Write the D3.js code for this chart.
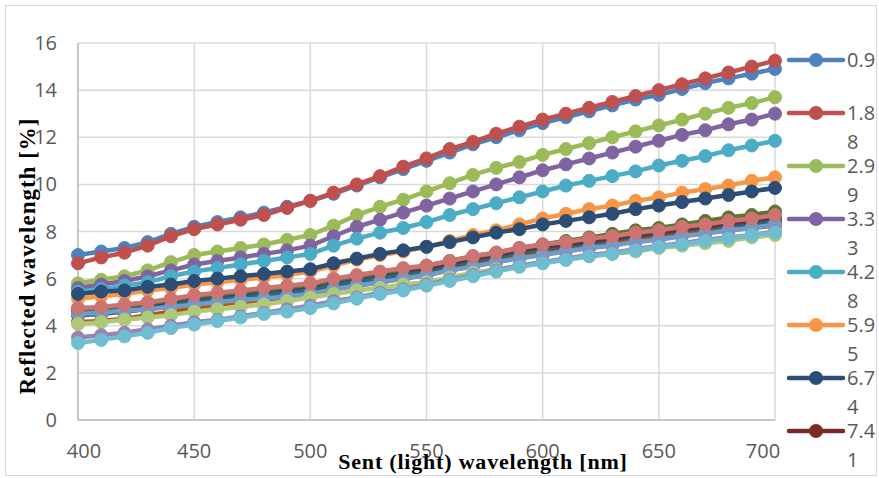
<!DOCTYPE html>
<html>
<head>
<meta charset="utf-8">
<script src="https://cdn.jsdelivr.net/npm/d3@7"></script>
<style>
  body { margin: 0; background: #fff; }
  svg { display: block; }
  .tick-label { font-family: 'Open Sans', sans-serif; font-size: 20px; fill: #595959; }
  .axis-title { font-family: 'Liberation Serif', 'Times New Roman', serif; font-weight: bold; fill: #000; }
</style>
</head>
<body>
<div id="chart"></div>
<script>
// sent wavelength (nm)
const wavelengths = [400, 410, 420, 430, 440, 450, 460, 470, 480, 490, 500, 510, 520, 530, 540, 550,
    560, 570, 580, 590, 600, 610, 620, 630, 640, 650, 660, 670, 680, 690, 700];

const xTicks = [400, 450, 500, 550, 600, 650, 700];
const yTicks = [0, 2, 4, 6, 8, 10, 12, 14, 16];

// only the first 8 series fit in the legend
const legendLabels = ['0.9', '1.88', '2.99', '3.33', '4.28', '5.95', '6.74', '7.41'];

// reflected wavelength [%], one array per series, in drawing order
const s01 = [7.0, 7.15, 7.3, 7.55, 7.9, 8.2, 8.4, 8.6, 8.8, 9.05, 9.3, 9.6, 9.95, 10.3, 10.65, 11.0,
    11.35, 11.7, 12.0, 12.3, 12.6, 12.85, 13.1, 13.35, 13.6, 13.8, 14.05, 14.3, 14.5, 14.7, 14.9];
const s02 = [6.65, 6.9, 7.1, 7.4, 7.8, 8.1, 8.3, 8.5, 8.7, 9.0, 9.3, 9.65, 10.0, 10.35, 10.75, 11.1,
    11.5, 11.8, 12.15, 12.45, 12.75, 13.0, 13.25, 13.5, 13.75, 14.0, 14.25, 14.5, 14.75, 15.0, 15.25];
const s03 = [5.8, 5.95, 6.1, 6.35, 6.7, 7.0, 7.15, 7.3, 7.45, 7.65, 7.85, 8.25, 8.7, 9.05, 9.35, 9.7,
    10.05, 10.4, 10.7, 10.95, 11.25, 11.5, 11.75, 12.0, 12.25, 12.5, 12.75, 13.0, 13.25, 13.45, 13.7];
const s04 = [5.6, 5.75, 5.9, 6.1, 6.35, 6.6, 6.75, 6.9, 7.05, 7.2, 7.4, 7.8, 8.2, 8.5, 8.8, 9.1,
    9.4, 9.7, 10.0, 10.3, 10.6, 10.85, 11.1, 11.35, 11.6, 11.85, 12.1, 12.3, 12.55, 12.75, 13.0];
const s05 = [5.45, 5.55, 5.7, 5.85, 6.1, 6.3, 6.45, 6.6, 6.75, 6.9, 7.05, 7.4, 7.7, 7.95, 8.15, 8.4,
    8.7, 8.95, 9.2, 9.45, 9.7, 9.95, 10.15, 10.35, 10.55, 10.8, 11.0, 11.2, 11.45, 11.65, 11.85];
const s06 = [5.15, 5.25, 5.35, 5.5, 5.6, 5.75, 5.85, 5.95, 6.05, 6.15, 6.3, 6.55, 6.8, 7.0, 7.15, 7.35,
    7.6, 7.85, 8.05, 8.3, 8.55, 8.75, 8.95, 9.1, 9.3, 9.45, 9.65, 9.8, 9.95, 10.15, 10.3];
const s07 = [5.35, 5.45, 5.5, 5.65, 5.75, 5.9, 6.0, 6.1, 6.2, 6.3, 6.4, 6.65, 6.85, 7.05, 7.2, 7.35,
    7.55, 7.75, 7.95, 8.1, 8.3, 8.45, 8.6, 8.75, 8.95, 9.1, 9.25, 9.4, 9.55, 9.7, 9.85];
const s08 = [4.65, 4.7, 4.8, 4.9, 5.05, 5.2, 5.3, 5.4, 5.5, 5.6, 5.7, 5.9, 6.05, 6.2, 6.35, 6.45,
    6.65, 6.85, 7.0, 7.2, 7.35, 7.45, 7.6, 7.7, 7.85, 7.95, 8.1, 8.2, 8.35, 8.45, 8.6];
const s09 = [4.6, 4.65, 4.75, 4.85, 5.0, 5.15, 5.25, 5.35, 5.45, 5.55, 5.7, 5.9, 6.05, 6.25, 6.4, 6.55,
    6.75, 6.95, 7.1, 7.3, 7.45, 7.6, 7.75, 7.9, 8.05, 8.15, 8.3, 8.45, 8.6, 8.7, 8.85];
const s10 = [4.5, 4.55, 4.65, 4.75, 4.9, 5.05, 5.15, 5.25, 5.35, 5.45, 5.55, 5.75, 5.9, 6.05, 6.2, 6.3,
    6.5, 6.7, 6.85, 7.05, 7.2, 7.3, 7.45, 7.55, 7.7, 7.8, 7.95, 8.05, 8.2, 8.3, 8.45];
const s11 = [4.45, 4.5, 4.6, 4.7, 4.85, 5.0, 5.1, 5.2, 5.3, 5.4, 5.5, 5.7, 5.85, 6.0, 6.15, 6.25,
    6.45, 6.65, 6.8, 7.0, 7.15, 7.25, 7.4, 7.5, 7.65, 7.75, 7.9, 8.0, 8.15, 8.25, 8.4];
const s12 = [4.15, 4.2, 4.3, 4.45, 4.6, 4.75, 4.9, 5.0, 5.1, 5.2, 5.35, 5.55, 5.7, 5.85, 6.0, 6.15,
    6.35, 6.55, 6.7, 6.9, 7.05, 7.2, 7.3, 7.45, 7.6, 7.7, 7.85, 7.95, 8.05, 8.15, 8.25];
const s13 = [4.5, 4.55, 4.65, 4.7, 4.8, 4.9, 5.0, 5.1, 5.15, 5.25, 5.35, 5.55, 5.7, 5.85, 6.0, 6.15,
    6.35, 6.5, 6.7, 6.85, 7.0, 7.15, 7.3, 7.4, 7.55, 7.65, 7.8, 7.9, 8.05, 8.15, 8.3];
const s14 = [4.75, 4.8, 4.9, 5.0, 5.15, 5.3, 5.4, 5.5, 5.6, 5.7, 5.8, 6.0, 6.15, 6.3, 6.45, 6.55,
    6.75, 6.95, 7.1, 7.3, 7.45, 7.55, 7.7, 7.8, 7.95, 8.05, 8.2, 8.3, 8.45, 8.55, 8.7];
const s15 = [4.07, 4.15, 4.25, 4.35, 4.45, 4.6, 4.7, 4.8, 4.9, 5.05, 5.2, 5.35, 5.5, 5.6, 5.75, 5.85,
    6.05, 6.25, 6.4, 6.55, 6.7, 6.8, 6.95, 7.05, 7.15, 7.3, 7.4, 7.5, 7.6, 7.75, 7.85];
const s16 = [3.5, 3.6, 3.7, 3.85, 4.0, 4.15, 4.25, 4.4, 4.55, 4.7, 4.85, 5.05, 5.2, 5.4, 5.55, 5.75,
    5.95, 6.15, 6.35, 6.55, 6.7, 6.85, 7.0, 7.1, 7.25, 7.4, 7.5, 7.65, 7.75, 7.85, 8.0];
const s17 = [3.27, 3.4, 3.55, 3.7, 3.9, 4.05, 4.2, 4.35, 4.5, 4.6, 4.75, 4.95, 5.15, 5.35, 5.5, 5.7,
    5.9, 6.1, 6.3, 6.5, 6.65, 6.8, 6.95, 7.05, 7.2, 7.35, 7.45, 7.6, 7.7, 7.85, 7.95];

const seriesValues = [s01, s02, s03, s04, s05, s06, s07, s08, s09, s10, s11, s12, s13, s14, s15, s16, s17];

// office 2007 series colours
const colors = ['#4F81BD', '#C0504D', '#9BBB59', '#8064A2', '#4BACC6', '#F79646',
    '#2C4D75', '#772C2A', '#5F7530', '#4D3B62', '#276A7C', '#B65708',
    '#729ACA', '#CD7371', '#AFC97A', '#9983B5', '#6FBDD1'];

const width = 879;
const height = 478;

const svg = d3.select('#chart')
    .append('svg')
    .attr('width', width)
    .attr('height', height);

svg.append('rect')
    .attr('x', 5.5).attr('y', 5.5)
    .attr('width', width - 8).attr('height', height - 8)
    .attr('fill', '#fff')
    .attr('stroke', '#D9D9D9');

const x = d3.scaleLinear().domain([400, 700]).range([78, 775]);
const y = d3.scaleLinear().domain([0, 16]).range([420, 43]);

// gridlines
svg.append('g')
    .selectAll('line.h')
    .data(yTicks)
    .join('line')
    .attr('x1', x(400)).attr('x2', x(700))
    .attr('y1', d => y(d)).attr('y2', d => y(d))
    .attr('stroke', '#D9D9D9')
    .attr('stroke-width', 1.5);

svg.append('g')
    .selectAll('line.v')
    .data(xTicks)
    .join('line')
    .attr('x1', d => x(d)).attr('x2', d => x(d))
    .attr('y1', y(0)).attr('y2', y(16))
    .attr('stroke', '#D9D9D9')
    .attr('stroke-width', 1.5);

// axis lines
svg.append('line')
    .attr('x1', x(400)).attr('x2', x(400))
    .attr('y1', y(0)).attr('y2', y(16))
    .attr('stroke', '#BFBFBF').attr('stroke-width', 1.5);
svg.append('line')
    .attr('x1', x(400)).attr('x2', x(700))
    .attr('y1', y(0)).attr('y2', y(0))
    .attr('stroke', '#BFBFBF').attr('stroke-width', 1.5);

// tick labels
svg.append('g')
    .selectAll('text')
    .data(yTicks)
    .join('text')
    .attr('class', 'tick-label')
    .attr('x', 57)
    .attr('y', d => y(d) + 7)
    .attr('text-anchor', 'end')
    .text(d => d);

// first and last labels are pushed inward a bit, like the original
const xLabelShift = (d) => d === 400 ? 6 : (d === 700 ? -12 : 0);
svg.append('g')
    .selectAll('text')
    .data(xTicks)
    .join('text')
    .attr('class', 'tick-label')
    .attr('x', d => x(d) + xLabelShift(d))
    .attr('y', 458)
    .attr('text-anchor', 'middle')
    .text(d => d);

// series
const line = d3.line()
    .x((d, i) => x(wavelengths[i]))
    .y(d => y(d));

seriesValues.forEach((vals, k) => {
    const g = svg.append('g');
    g.append('path')
        .datum(vals)
        .attr('d', line)
        .attr('fill', 'none')
        .attr('stroke', colors[k])
        .attr('stroke-width', 4.5)
        .attr('stroke-linejoin', 'round')
        .attr('stroke-linecap', 'round');
    g.selectAll('circle')
        .data(vals)
        .join('circle')
        .attr('cx', (d, i) => x(wavelengths[i]))
        .attr('cy', d => y(d))
        .attr('r', 6.5)
        .attr('fill', colors[k])
        .attr('stroke', colors[k])
        .attr('stroke-width', 1);
});

// axis titles
svg.append('text')
    .attr('class', 'axis-title')
    .attr('x', 483)
    .attr('y', 469)
    .attr('text-anchor', 'middle')
    .style('font-size', '22px')
    .style('letter-spacing', '0.8px')
    .text('Sent (light) wavelength [nm]');

svg.append('text')
    .attr('class', 'axis-title')
    .attr('transform', 'translate(35,256) rotate(-90)')
    .attr('text-anchor', 'middle')
    .style('font-size', '23px')
    .style('letter-spacing', '1px')
    .text('Reflected wavelength [%]');

// legend (narrow, so the labels wrap after three characters)
const legend = svg.append('g')
    .selectAll('g')
    .data(legendLabels)
    .join('g')
    .attr('transform', (d, i) => `translate(0,${60 + i * 53})`);

legend.append('line')
    .attr('x1', 789).attr('x2', 843)
    .attr('y1', 0).attr('y2', 0)
    .attr('stroke', (d, i) => colors[i])
    .attr('stroke-width', 4.5)
    .attr('stroke-linecap', 'round');

legend.append('circle')
    .attr('cx', 816).attr('cy', 0)
    .attr('r', 7)
    .attr('fill', (d, i) => colors[i]);

legend.append('text')
    .attr('class', 'tick-label')
    .attr('x', 847)
    .attr('y', 7)
    .text(d => d.slice(0, 3));

legend.filter(d => d.length > 3)
    .append('text')
    .attr('class', 'tick-label')
    .attr('x', 847)
    .attr('y', 36)
    .text(d => d.slice(3));
</script>
</body>
</html>
